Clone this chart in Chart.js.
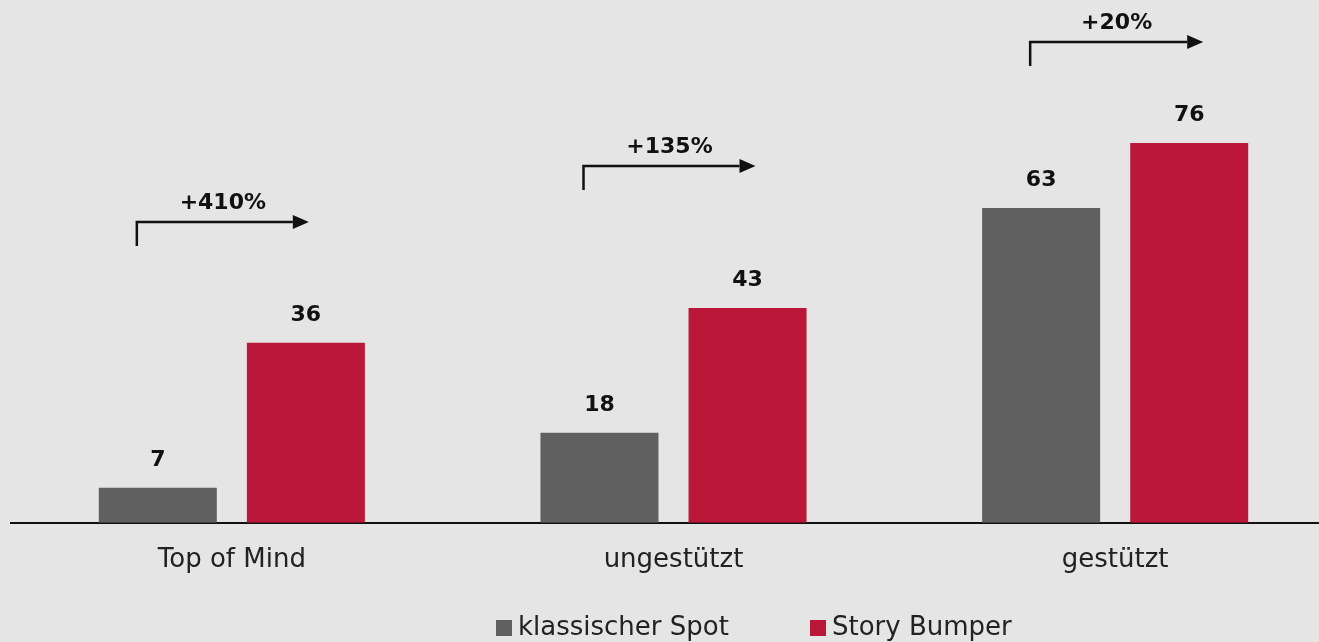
<!DOCTYPE html>
<html lang="de">
<head>
<meta charset="utf-8">
<title>Top of Mind / ungestützt / gestützt</title>
<script src="https://cdn.jsdelivr.net/npm/chart.js@4.4.1/dist/chart.umd.min.js"></script>
<style>
    html, body { margin: 0; padding: 0; background: #e5e5e5; overflow: hidden; }
    #wrap { position: relative; width: 1340px; height: 642px; }
</style>
</head>
<body>
<div id="wrap"><canvas id="recallChart"></canvas></div>
<script>
// Data
const categories = ['Top of Mind', 'ungestützt', 'gestützt'];
const klassischerSpot = [7, 18, 63];
const storyBumper = [36, 43, 76];
const growthLabels = ['+410%', '+135%', '+20%'];

const FONT = '"DejaVu Sans", "Open Sans", sans-serif';

// Value labels, growth arrows and legend
const overlayPlugin = {
    id: 'overlay',
    afterDatasetsDraw(chart, args, opts) {
        const ctx = chart.ctx;
        const xScale = chart.scales.x;
        const yScale = chart.scales.y;
        ctx.save();

        // Values above bars
        ctx.fillStyle = '#111';
        ctx.font = 'bold 22px ' + FONT;
        ctx.textAlign = 'center';
        ctx.textBaseline = 'middle';
        chart.data.datasets.forEach((ds, i) => {
            chart.getDatasetMeta(i).data.forEach((bar, j) => {
                ctx.fillText(ds.data[j], bar.x, bar.y - 28);
            });
        });

        // Growth arrows
        ctx.strokeStyle = '#111';
        ctx.lineWidth = 2.5;
        growthLabels.forEach((label, j) => {
            const cx = xScale.getPixelForValue(j);
            const y = yScale.getPixelForValue(opts.arrowLevels[j]);
            const x0 = cx + opts.arrowStart[j];
            const x1 = cx + opts.arrowEnd[j];
            ctx.beginPath();
            ctx.moveTo(x0, y + 24);
            ctx.lineTo(x0, y);
            ctx.lineTo(x1 - 16, y);
            ctx.stroke();
            ctx.beginPath();
            ctx.moveTo(x1, y);
            ctx.lineTo(x1 - 16, y - 7);
            ctx.lineTo(x1 - 16, y + 7);
            ctx.closePath();
            ctx.fill();
            ctx.fillText(label, (x0 + x1) / 2, y - 19);
        });

        // Legend
        ctx.font = '26px ' + FONT;
        ctx.textAlign = 'left';
        chart.data.datasets.forEach((ds, i) => {
            const lx = opts.legendX[i];
            ctx.fillStyle = ds.backgroundColor;
            ctx.fillRect(lx, 620, 16, 16);
            ctx.fillStyle = '#222';
            ctx.fillText(ds.label, lx + 22, 628);
        });
        ctx.restore();
    }
};

const ctx = document.getElementById('recallChart').getContext('2d');
new Chart(ctx, {
    type: 'bar',
    data: {
        labels: categories,
        datasets: [
            { label: 'klassischer Spot', data: klassischerSpot, backgroundColor: '#606060' },
            { label: 'Story Bumper', data: storyBumper, backgroundColor: '#bb1839' }
        ]
    },
    options: {
        responsive: true,
        maintainAspectRatio: false,
        animation: false,
        categoryPercentage: 0.6705,
        barPercentage: 0.797,
        layout: { padding: { left: 11, right: 4, top: 23, bottom: 52 } },
        plugins: {
            legend: { display: false },
            tooltip: { enabled: false },
            overlay: {
                arrowLevels: [60.2, 71.4, 96.2],
                arrowStart: [-95, -90, -85],
                arrowEnd: [77, 82, 88],
                legendX: [496, 810]
            }
        },
        scales: {
            x: {
                grid: { display: false },
                border: { display: true, color: '#111', width: 2 },
                ticks: { color: '#222', font: { family: FONT, size: 26 }, padding: 14 }
            },
            y: { display: false, min: 0, max: 100 }
        }
    },
    plugins: [overlayPlugin]
});
</script>
</body>
</html>
